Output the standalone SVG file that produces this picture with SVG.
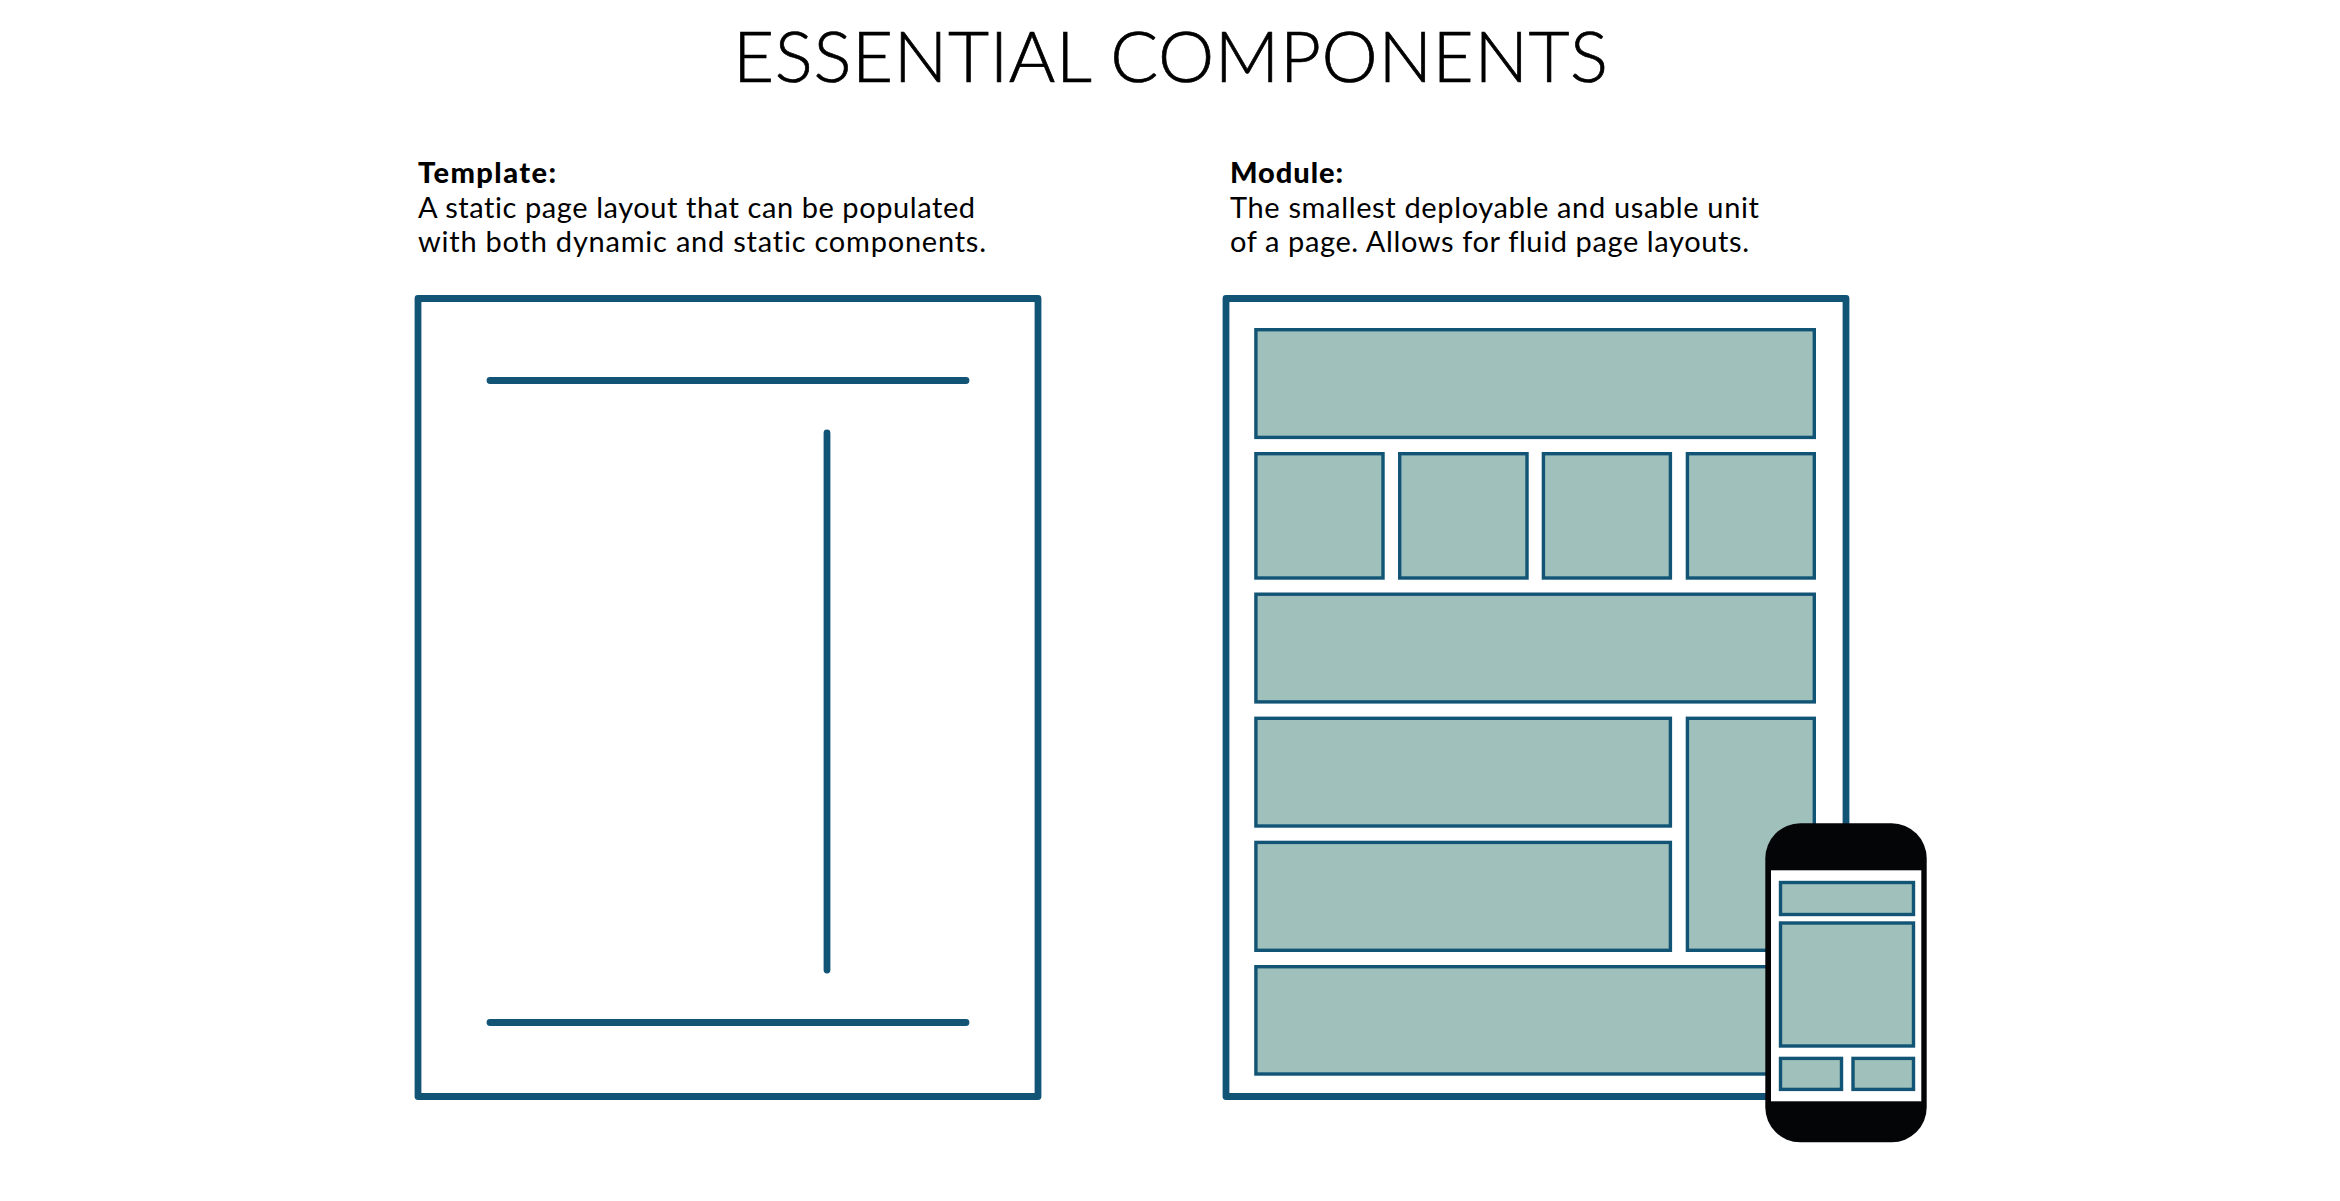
<svg xmlns="http://www.w3.org/2000/svg" width="2340" height="1201" viewBox="0 0 2340 1201">
<style>
.frame{fill:#fff;stroke:#115475;stroke-width:6.8;stroke-linejoin:round}
.m{fill:#a0c1bb;stroke:#115475;stroke-width:3.4}
.wire{fill:none;stroke:#115475;stroke-width:6.8;stroke-linecap:round}
text{font-family:"Lato","Liberation Sans",sans-serif;fill:#000;font-size:29px;font-variant-ligatures:none}
.b{font-weight:900}
.t{font-size:71px;font-weight:300;stroke:#000;stroke-width:.7}
</style>
<rect width="2340" height="1201" fill="#fff"/>
<text id="title" class="t" x="733" y="82" textLength="875">ESSENTIAL COMPONENTS</text>
<g id="template-label">
<text class="b" x="418" y="183" textLength="138">Template:</text>
<text x="418" y="217.500" textLength="557">A static page layout that can be populated</text>
<text x="418" y="252" textLength="568">with both dynamic and static components.</text>
</g>
<g id="module-label">
<text class="b" x="1230" y="183" textLength="113">Module:</text>
<text x="1230" y="217.500" textLength="529">The smallest deployable and usable unit</text>
<text x="1230" y="252" textLength="519">of a page. Allows for fluid page layouts.</text>
</g>
<g id="template">
<rect class="frame" x="418" y="298.500" width="620" height="798"/>
<path class="wire" d="M490 380.500H966M490 1022.500H966M827 433V970"/>
</g>
<g id="module">
<rect class="frame" x="1226" y="298.500" width="620" height="798"/>
<rect class="m" x="1255.900" y="329.700" width="558.400" height="107.700"/>
<rect class="m" x="1255.900" y="453.700" width="127.100" height="124.300"/>
<rect class="m" x="1399.700" y="453.700" width="127.300" height="124.300"/>
<rect class="m" x="1543.400" y="453.700" width="127" height="124.300"/>
<rect class="m" x="1687.400" y="453.700" width="126.900" height="124.300"/>
<rect class="m" x="1255.900" y="594.200" width="558.400" height="107.700"/>
<rect class="m" x="1255.900" y="718.300" width="414.500" height="107.700"/>
<rect class="m" x="1255.900" y="842.400" width="414.500" height="107.900"/>
<rect class="m" x="1687.400" y="718.300" width="126.900" height="232"/>
<rect class="m" x="1255.900" y="966.700" width="558.400" height="107.300"/>
</g>
<g id="phone">
<rect x="1765.300" y="823.300" width="161.400" height="319" rx="35" fill="#040507"/>
<rect x="1771" y="870.300" width="150.300" height="231" fill="#fff"/>
<rect class="m" x="1780.500" y="882.500" width="133" height="32"/>
<rect class="m" x="1780.500" y="923" width="133" height="123"/>
<rect class="m" x="1780.500" y="1058.400" width="61" height="31"/>
<rect class="m" x="1853" y="1058.400" width="60.500" height="31"/>
</g>
</svg>
